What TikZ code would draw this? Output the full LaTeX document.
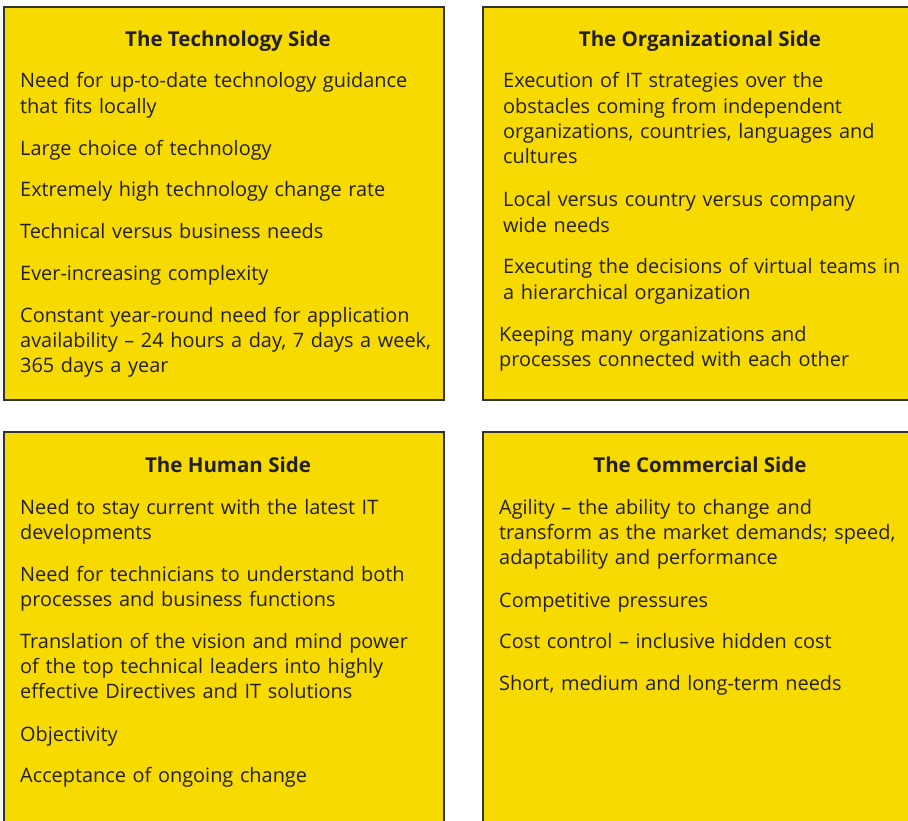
\documentclass[tikz,border=0pt]{standalone}
\usepackage{fontspec}
\setmainfont{Open Sans}
\definecolor{boxyellow}{RGB}{247,218,0}
\definecolor{boxline}{RGB}{50,50,50}
\definecolor{txt}{RGB}{35,31,32}
\begin{document}
\begin{tikzpicture}[x=1pt,y=-1pt,
  panel/.style={draw=boxline,line width=1.2pt,fill=boxyellow},
  ttl/.style={anchor=base,font=\fontsize{20.5}{25.3}\selectfont\bfseries,text=txt,inner sep=0pt},
  item/.style={anchor=base west,font=\fontsize{19.9}{25.3}\selectfont,text=txt,inner sep=0pt,text width=430pt,align=left}]
\useasboundingbox (0,0) rectangle (908,821);
\clip (0,0) rectangle (908,821);
\fill[white] (0,0) rectangle (908,821);
% panels
\draw[panel] (4,7) rectangle (444,400);
\draw[panel] (483,7) rectangle (912,400);
\draw[panel] (4,432) rectangle (444,826);
\draw[panel] (483,432) rectangle (912,826);
% Technology side
\node[ttl] (t0) at (228,47) {The Technology Side};
\node[item] (t1) at (20,88) {Need for up-to-date technology guidance\\that fits locally};
\node[item] (t2) at (20,156) {Large choice of technology};
\node[item] (t3) at (20,197) {Extremely high technology change rate};
\node[item] (t4) at (20,239) {Technical versus business needs};
\node[item] (t5) at (20,280) {Ever-increasing complexity};
\node[item] (t6) at (20,322) {Constant year-round need for application\\availability – 24 hours a day, 7 days a week,\\365 days a year};
% Organizational side
\node[ttl] (o0) at (700,47) {The Organizational Side};
\node[item] (o1) at (503,88) {Execution of IT strategies over the\\obstacles coming from independent\\organizations, countries, languages and\\cultures};
\node[item] (o2) at (503,207) {Local versus country versus company\\wide needs};
\node[item] (o3) at (503,274) {Executing the decisions of virtual teams in\\a hierarchical organization};
\node[item] (o4) at (499,341) {Keeping many organizations and\\processes connected with each other};
% Human side
\node[ttl] (h0) at (228,472) {The Human Side};
\node[item] (h1) at (20,514) {Need to stay current with the latest IT\\developments};
\node[item] (h2) at (20,581) {Need for technicians to understand both\\processes and business functions};
\node[item] (h3) at (20,648) {Translation of the vision and mind power\\of the top technical leaders into highly\\effective Directives and IT solutions};
\node[item] (h4) at (20,741) {Objectivity};
\node[item] (h5) at (20,782) {Acceptance of ongoing change};
% Commercial side
\node[ttl] (c0) at (700,472) {The Commercial Side};
\node[item] (c1) at (499,514) {Agility – the ability to change and\\transform as the market demands; speed,\\adaptability and performance};
\node[item] (c2) at (499,607) {Competitive pressures};
\node[item] (c3) at (499,648) {Cost control – inclusive hidden cost};
\node[item] (c4) at (499,690) {Short, medium and long-term needs};
\end{tikzpicture}
\end{document}
